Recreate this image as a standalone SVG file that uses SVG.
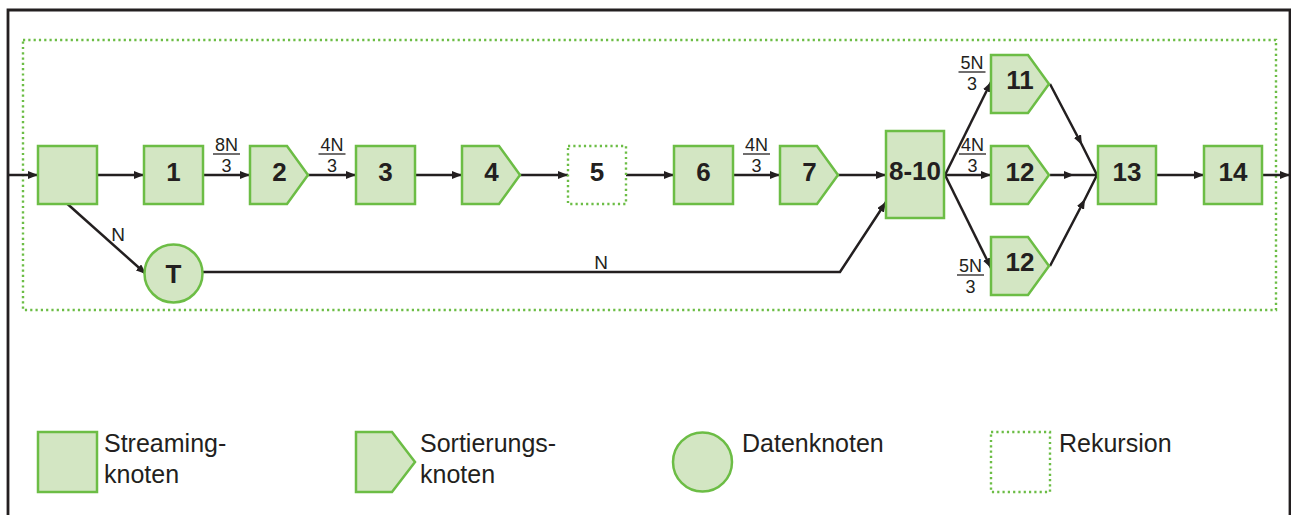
<svg xmlns="http://www.w3.org/2000/svg" width="1291" height="515" viewBox="0 0 1291 515">
  <style>
    .node { fill: #d3e6c3; stroke: #6cbd45; stroke-width: 2.5; }
    .rec { fill: none; stroke: #6cbd45; stroke-width: 2.4; stroke-dasharray: 2.2 3.1; }
    .edge { fill: none; stroke: #231f20; stroke-width: 2.5; }
    .lbl { font-family: "Liberation Sans", Arial, sans-serif; font-weight: bold; font-size: 26px; fill: #231f20; text-anchor: middle; }
    .el { font-family: "Liberation Sans", Arial, sans-serif; font-size: 19px; fill: #231f20; text-anchor: middle; }
    .fr { font-family: "Liberation Sans", Arial, sans-serif; font-size: 18px; fill: #231f20; text-anchor: middle; }
    .frac { stroke: #231f20; stroke-width: 1.3; }
    .leg { font-family: "Liberation Sans", Arial, sans-serif; font-size: 25px; fill: #231f20; }
  </style>
  <defs>
    <marker id="arr" viewBox="0 0 10 8" refX="10" refY="4" markerWidth="10" markerHeight="8" markerUnits="userSpaceOnUse" orient="auto">
      <path d="M0,0 L10,4 L0,8 z" fill="#231f20"/>
    </marker>
    <polygon id="pent" points="0,0 37,0 58,29 37,58 0,58"/>
  </defs>

  <rect width="1291" height="515" fill="#ffffff"/>

  <!-- outer frame -->
  <path d="M8,515 V10 H1290 V515" fill="none" stroke="#231f20" stroke-width="2.8"/>

  <!-- recursion region -->
  <rect class="rec" x="23" y="40" width="1253" height="270"/>

  <!-- connectors -->
  <g id="connectors">
    <path class="edge" d="M8,175 H38" marker-end="url(#arr)"/>
    <path class="edge" d="M97,175 H144" marker-end="url(#arr)"/>
    <path class="edge" d="M203,175 H250" marker-end="url(#arr)"/>
    <path class="edge" d="M308,175 H356" marker-end="url(#arr)"/>
    <path class="edge" d="M414,175 H462" marker-end="url(#arr)"/>
    <path class="edge" d="M520,175 H568" marker-end="url(#arr)"/>
    <path class="edge" d="M626,175 H674" marker-end="url(#arr)"/>
    <path class="edge" d="M732,175 H780" marker-end="url(#arr)"/>
    <path class="edge" d="M838,175 H886" marker-end="url(#arr)"/>
    <path class="edge" d="M67.5,204 L146,274" marker-end="url(#arr)"/>
    <path class="edge" d="M202,272 H840 L886,202" marker-end="url(#arr)"/>
    <path class="edge" d="M945,175 L991,82" marker-end="url(#arr)"/>
    <path class="edge" d="M945,175 H991" marker-end="url(#arr)"/>
    <path class="edge" d="M945,175 L991,268" marker-end="url(#arr)"/>
    <path class="edge" d="M1050,84 L1082,145 L1097,175" marker-mid="url(#arr)"/>
    <path class="edge" d="M1050,175 L1074,175 L1097,175" marker-mid="url(#arr)"/>
    <path class="edge" d="M1050,266 L1085,199 L1097,175" marker-mid="url(#arr)"/>
    <path class="edge" d="M1156,175 H1204" marker-end="url(#arr)"/>
    <path class="edge" d="M1263,175 H1290" marker-end="url(#arr)"/>

    <!-- edge labels (fractions) -->
    <text class="fr" x="226.5" y="151">8N</text>
    <line class="frac" x1="213" y1="154" x2="240" y2="154"/>
    <text class="fr" x="226.5" y="171.5">3</text>

    <text class="fr" x="332" y="151">4N</text>
    <line class="frac" x1="318.5" y1="154" x2="345.5" y2="154"/>
    <text class="fr" x="332" y="171.5">3</text>

    <text class="fr" x="756.5" y="151">4N</text>
    <line class="frac" x1="743" y1="154" x2="770" y2="154"/>
    <text class="fr" x="756.5" y="171.5">3</text>

    <text class="fr" x="972" y="69">5N</text>
    <line class="frac" x1="958.5" y1="72" x2="985.5" y2="72"/>
    <text class="fr" x="972" y="89.5">3</text>

    <text class="fr" x="972.5" y="151">4N</text>
    <line class="frac" x1="959" y1="154" x2="986" y2="154"/>
    <text class="fr" x="972.5" y="171.5">3</text>

    <text class="fr" x="970.5" y="272">5N</text>
    <line class="frac" x1="957" y1="275" x2="984" y2="275"/>
    <text class="fr" x="970.5" y="292.5">3</text>

    <text class="el" x="118" y="241">N</text>
    <text class="el" x="601" y="269">N</text>
  </g>

  <!-- nodes -->
  <g id="n-start"><rect class="node" x="38" y="146" width="59" height="58"/></g>
  <g id="n1"><rect class="node" x="144" y="146" width="59" height="58"/><text class="lbl" x="173.5" y="181">1</text></g>
  <g id="n2"><use href="#pent" class="node" x="250" y="146"/><text class="lbl" x="279.5" y="181">2</text></g>
  <g id="n3"><rect class="node" x="356" y="146" width="59" height="58"/><text class="lbl" x="385.5" y="181">3</text></g>
  <g id="n4"><use href="#pent" class="node" x="462" y="146"/><text class="lbl" x="491.5" y="181">4</text></g>
  <g id="n5"><rect class="rec" x="568" y="146" width="58" height="58"/><text class="lbl" x="597" y="181">5</text></g>
  <g id="n6"><rect class="node" x="674" y="146" width="59" height="58"/><text class="lbl" x="703.5" y="181">6</text></g>
  <g id="n7"><use href="#pent" class="node" x="780" y="146"/><text class="lbl" x="809.5" y="181">7</text></g>
  <g id="n8-10"><rect class="node" x="886" y="131" width="58" height="87"/><text class="lbl" x="915" y="180">8-10</text></g>
  <g id="n11"><use href="#pent" class="node" x="991" y="55"/><text class="lbl" x="1020" y="89">11</text></g>
  <g id="n12a"><use href="#pent" class="node" x="991" y="146"/><text class="lbl" x="1020" y="181">12</text></g>
  <g id="n12b"><use href="#pent" class="node" x="991" y="237"/><text class="lbl" x="1020" y="271">12</text></g>
  <g id="n13"><rect class="node" x="1098" y="146" width="58" height="58"/><text class="lbl" x="1127" y="181">13</text></g>
  <g id="n14"><rect class="node" x="1204" y="146" width="58" height="58"/><text class="lbl" x="1233" y="181">14</text></g>
  <g id="nT"><circle class="node" cx="173.5" cy="273.5" r="29"/><text class="lbl" x="173.5" y="283">T</text></g>

  <!-- legend -->
  <g id="legend-streaming">
    <rect class="node" x="38" y="432" width="59" height="60"/>
    <text class="leg" x="104" y="452">Streaming-</text>
    <text class="leg" x="104" y="483">knoten</text>
  </g>
  <g id="legend-sort">
    <polygon class="node" points="356,432 392,432 415,462 392,492 356,492"/>
    <text class="leg" x="420" y="452">Sortierungs-</text>
    <text class="leg" x="420" y="483">knoten</text>
  </g>
  <g id="legend-data">
    <circle class="node" cx="702.5" cy="462" r="29.5"/>
    <text class="leg" x="742" y="452">Datenknoten</text>
  </g>
  <g id="legend-rec">
    <rect class="rec" x="991" y="432" width="59" height="60"/>
    <text class="leg" x="1059" y="452">Rekursion</text>
  </g>
</svg>
